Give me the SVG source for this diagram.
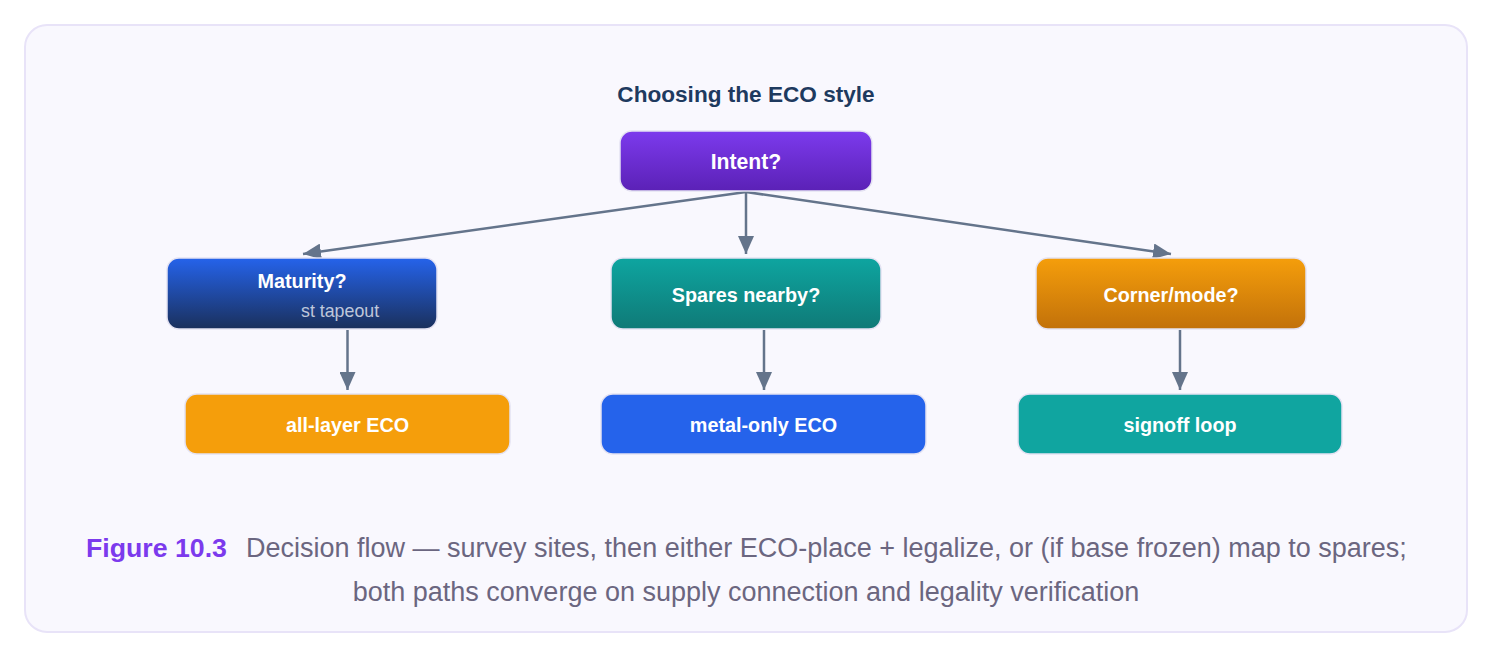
<svg xmlns="http://www.w3.org/2000/svg" width="1494" height="660" viewBox="0 0 1494 660">
<defs>
<linearGradient id="gPurple" x1="0" y1="0" x2="0" y2="1"><stop offset="0" stop-color="#7c3aed"/><stop offset="1" stop-color="#5b21b6"/></linearGradient>
<linearGradient id="gBlue" x1="0" y1="0" x2="0" y2="1"><stop offset="0" stop-color="#2563eb"/><stop offset="1" stop-color="#1a305c"/></linearGradient>
<linearGradient id="gTeal" x1="0" y1="0" x2="0" y2="1"><stop offset="0" stop-color="#0ea5a0"/><stop offset="1" stop-color="#0f7a77"/></linearGradient>
<linearGradient id="gAmber" x1="0" y1="0" x2="0" y2="1"><stop offset="0" stop-color="#f59e0b"/><stop offset="1" stop-color="#c2710a"/></linearGradient>
<marker id="arrow" markerUnits="userSpaceOnUse" markerWidth="20" markerHeight="16" viewBox="0 0 20 16" refX="18" refY="8" orient="auto">
<path d="M0,0 L18,8 L0,16 Z" fill="#64748b"/>
</marker>
<style>
.node rect{stroke:#e4e2f2;stroke-width:1.5}
.lbl{font-family:"Liberation Sans",Arial,sans-serif;font-weight:bold;font-size:19.8px;fill:#ffffff;text-anchor:middle}
.sub{font-family:"Liberation Sans",Arial,sans-serif;font-size:17.8px;fill:#ffffff;fill-opacity:0.72}
.conn{stroke:#64748b;stroke-width:2.5;fill:none;marker-end:url(#arrow)}
.title{font-family:"Liberation Sans",Arial,sans-serif;font-weight:bold;font-size:22.6px;fill:#1e3a5f;text-anchor:middle}
.cap{font-family:"Liberation Sans",Arial,sans-serif;font-size:27px;fill:#6b6680}
.capb{font-family:"Liberation Sans",Arial,sans-serif;font-size:26.7px;font-weight:bold;fill:#7c3aed}
</style>
</defs>
<rect width="1494" height="660" fill="#ffffff"/>
<rect x="25" y="25" width="1442" height="607" rx="22" fill="#f9f8fe" stroke="#e8e3f8" stroke-width="2"/>
<text class="title" x="746" y="102">Choosing the ECO style</text>
<g id="connectors">
<line class="conn" x1="746" y1="192" x2="303" y2="254"/>
<line class="conn" x1="746" y1="192" x2="746" y2="254"/>
<line class="conn" x1="746" y1="192" x2="1171" y2="254"/>
<line class="conn" x1="347.5" y1="330" x2="347.5" y2="390"/>
<line class="conn" x1="764" y1="330" x2="764" y2="390"/>
<line class="conn" x1="1180" y1="330" x2="1180" y2="390"/>
</g>
<g id="intent" class="node">
<rect x="620" y="131" width="252" height="60" rx="12" fill="url(#gPurple)"/>
<text class="lbl" x="746" y="169" style="font-size:21.2px">Intent?</text>
</g>
<g id="maturity" class="node">
<rect x="167" y="258" width="270" height="71" rx="12" fill="url(#gBlue)"/>
<text class="lbl" x="302" y="288">Maturity?</text>
<text class="sub" x="301" y="317">st tapeout</text>
</g>
<g id="spares" class="node">
<rect x="611" y="258" width="270" height="71" rx="12" fill="url(#gTeal)"/>
<text class="lbl" x="746" y="302">Spares nearby?</text>
</g>
<g id="corner" class="node">
<rect x="1036" y="258" width="270" height="71" rx="12" fill="url(#gAmber)"/>
<text class="lbl" x="1171" y="302">Corner/mode?</text>
</g>
<g id="alllayer" class="node">
<rect x="185" y="394" width="325" height="60" rx="12" fill="#f59e0b"/>
<text class="lbl" x="347.5" y="432">all-layer ECO</text>
</g>
<g id="metalonly" class="node">
<rect x="601" y="394" width="325" height="60" rx="12" fill="#2563eb"/>
<text class="lbl" x="763.5" y="432">metal-only ECO</text>
</g>
<g id="signoff" class="node">
<rect x="1018" y="394" width="324" height="60" rx="12" fill="#10a5a0"/>
<text class="lbl" x="1180" y="432">signoff loop</text>
</g>
<text class="capb" x="86" y="557">Figure 10.3</text>
<text class="cap" x="246" y="557">Decision flow — survey sites, then either ECO-place + legalize, or (if base frozen) map to spares;</text>
<text class="cap" x="746" y="601" text-anchor="middle">both paths converge on supply connection and legality verification</text>
</svg>
